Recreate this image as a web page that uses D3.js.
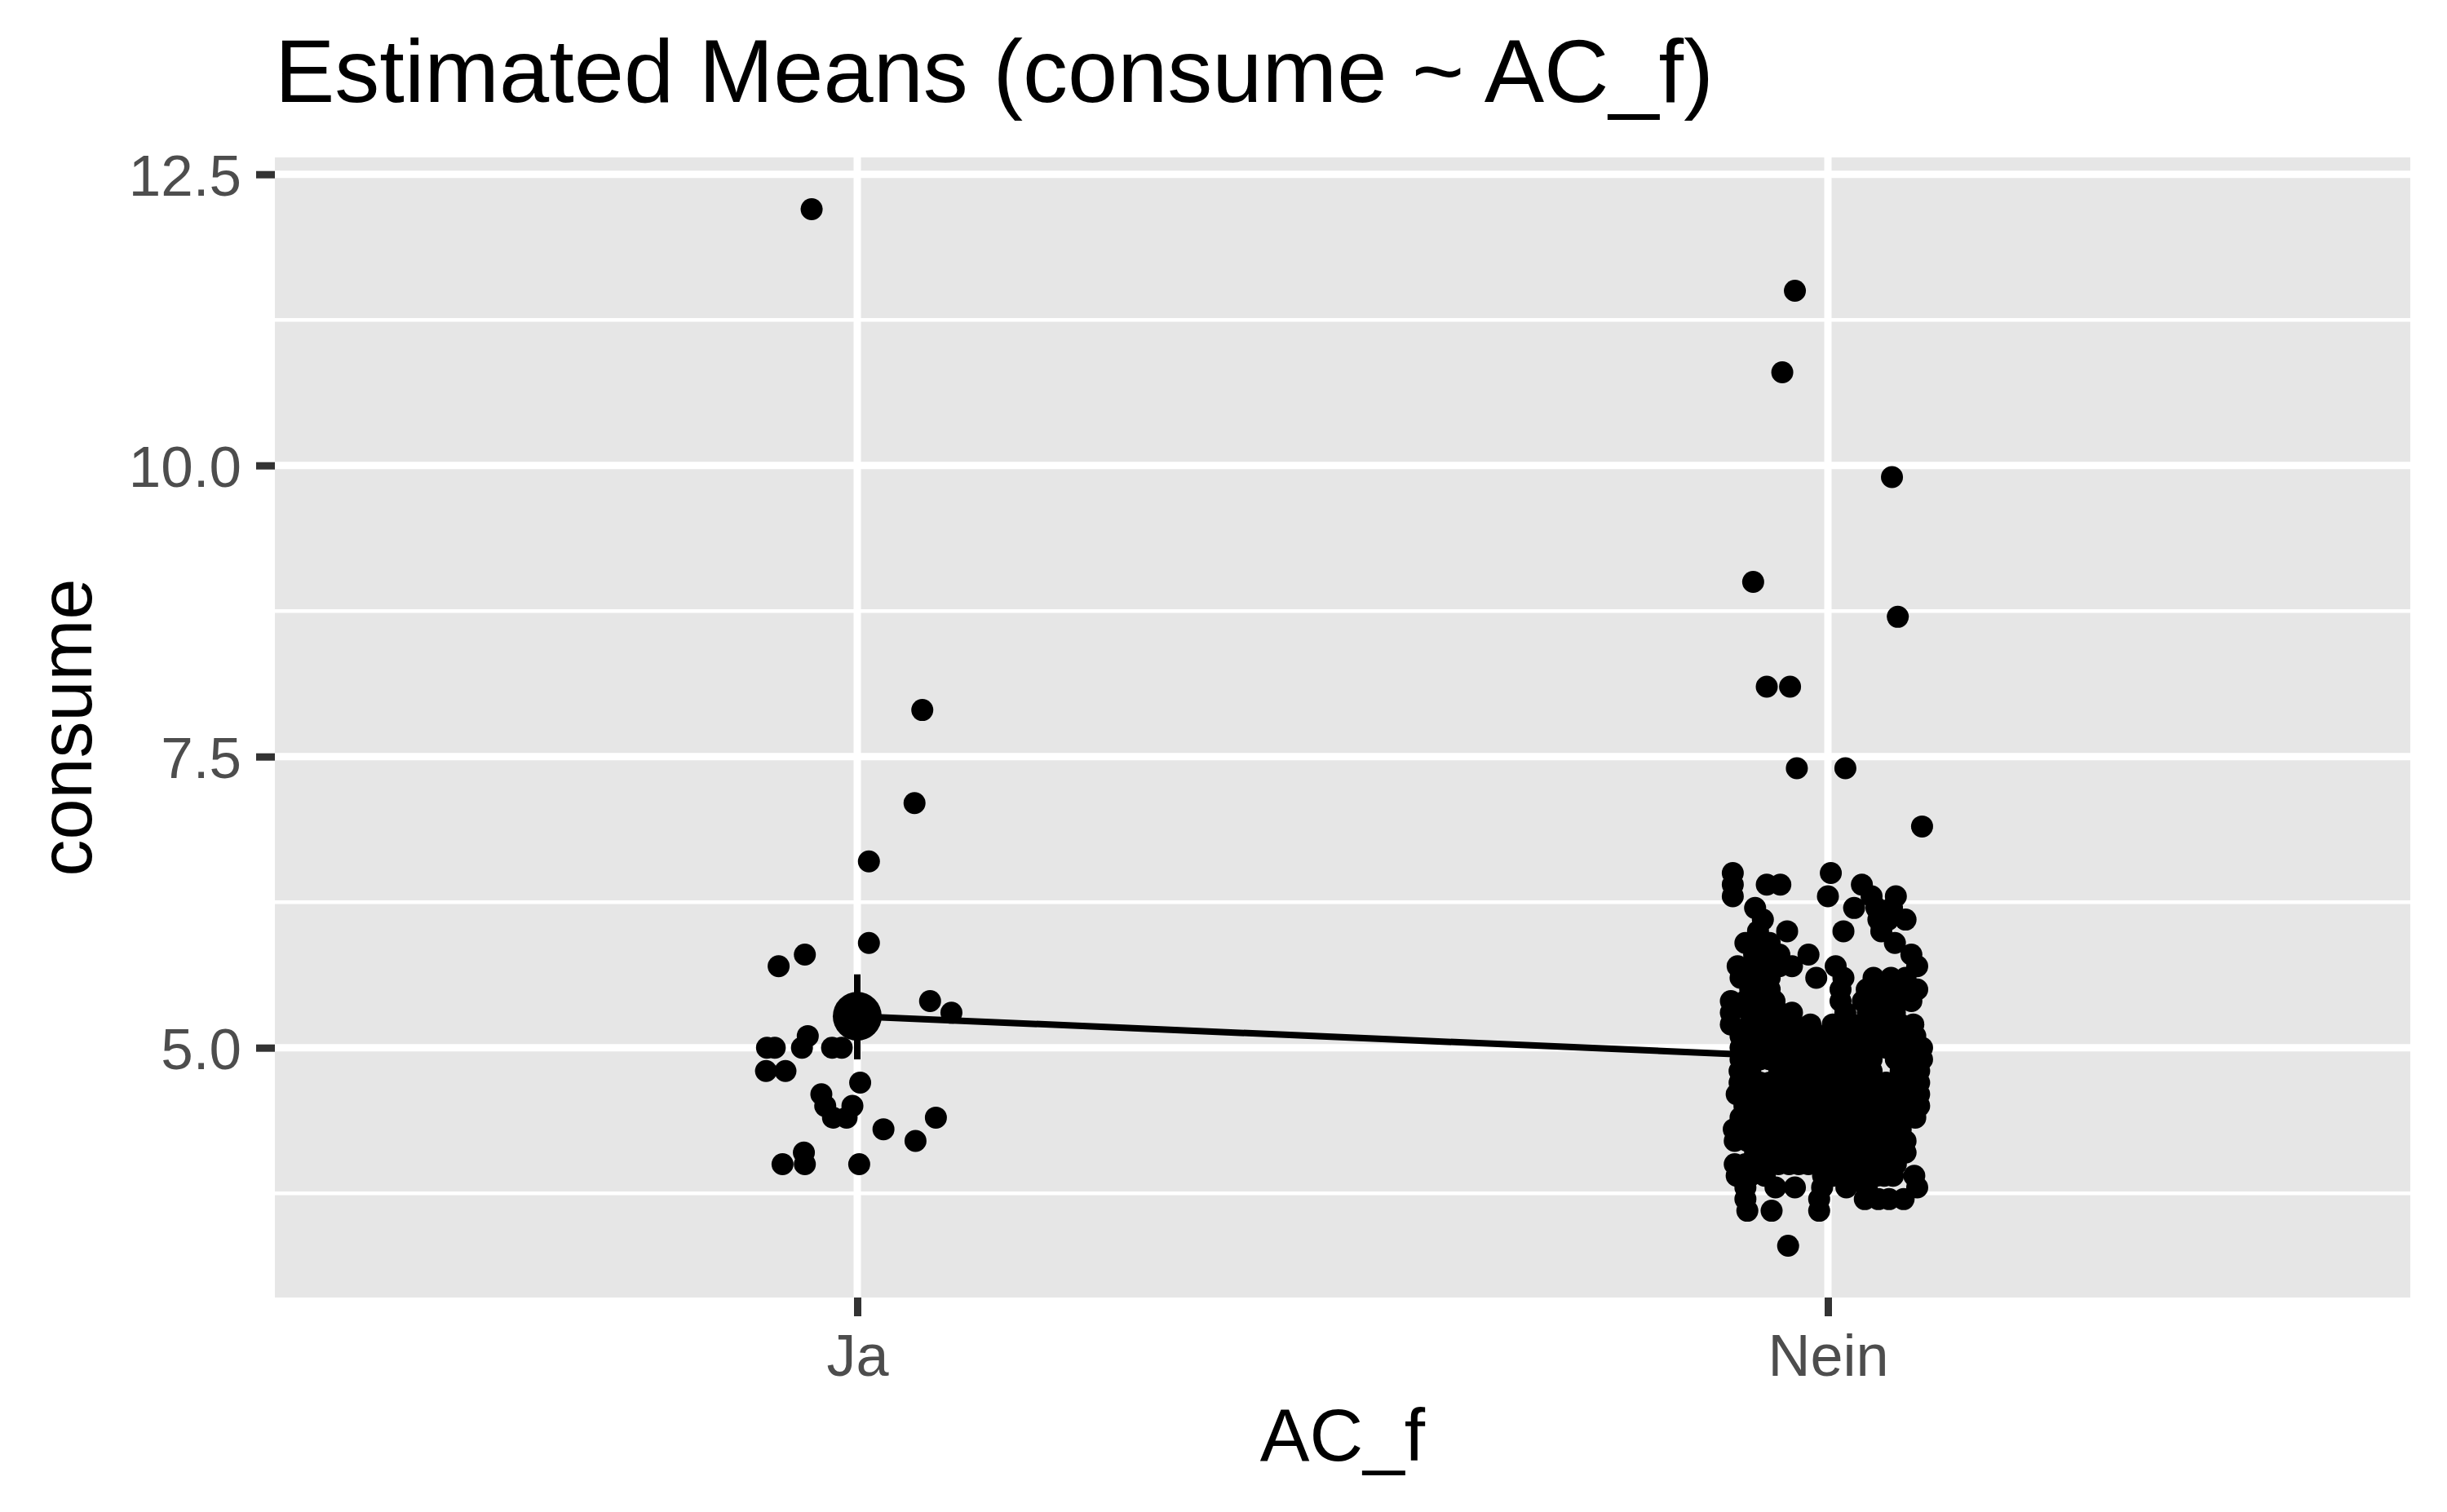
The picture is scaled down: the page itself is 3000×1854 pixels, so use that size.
<!DOCTYPE html>
<html>
<head>
<meta charset="utf-8">
<script src="https://cdn.jsdelivr.net/npm/d3@7"></script>
<style>
  html, body { margin: 0; padding: 0; background: #ffffff; }
  svg { display: block; }
  text { font-family: "Liberation Sans", Arial, Helvetica, sans-serif; }
</style>
</head>
<body>
<svg id="chart" width="3000" height="1854"></svg>
<script>
// ---------------- data ----------------
const categories = ["Ja", "Nein"];
const titleText = "Estimated Means (consume ~ AC_f)";
const xTitle = "AC_f";
const yTitle = "consume";
const yTicks = [5.0, 7.5, 10.0, 12.5];
const yMinorTicks = [3.75, 6.25, 8.75, 11.25];

// estimated means and confidence limits per category
const meanConsume = [5.27, 4.91];
const ciLow = [4.90, 4.80];
const ciHigh = [5.63, 5.02];

// raw observations: [consume, horizontal jitter in category units]
const jaPoints = [
  [12.2,-0.047],[7.9,0.067],[7.1,0.059],[6.6,0.012],[5.9,0.012],[5.8,-0.054],
  [5.7,-0.081],[5.4,0.075],[5.3,0.097],[5.1,-0.051],[5.0,-0.057],[5.0,-0.093],
  [5.0,-0.085],[5.0,-0.026],[5.0,-0.016],[4.8,-0.094],[4.8,-0.074],[4.7,0.003],
  [4.6,-0.037],[4.5,-0.033],[4.5,-0.005],[4.4,-0.025],[4.4,-0.011],[4.3,0.027],
  [4.4,0.081],[4.2,0.060],[4.1,-0.055],[4.0,-0.077],[4.0,-0.054],[4.0,0.002]
];

const neinPoints = [
  [11.5,-0.034],[10.8,-0.047],[9.9,0.066],[9.0,-0.077],[8.7,0.072],[8.1,-0.063],
  [8.1,-0.039],[7.4,-0.032],[7.4,0.018],[6.9,0.097],
  [6.5,-0.098],[6.5,0.003],
  [6.4,-0.098],[6.4,-0.063],[6.4,-0.049],[6.4,0.035],
  [6.3,-0.098],[6.3,0.000],[6.3,0.070],[6.3,0.045],
  [6.2,-0.075],[6.2,0.027],[6.2,0.050],[6.2,0.066],
  [6.1,-0.067],[6.1,0.052],[6.1,0.080],[6.1,0.062],
  [6.0,-0.072],[6.0,-0.042],[6.0,0.016],[6.0,0.055],
  [5.9,-0.085],[5.9,-0.070],[5.9,-0.060],[5.9,0.069],
  [5.8,-0.076],[5.8,-0.065],[5.8,-0.050],[5.8,-0.020],[5.8,0.086],
  [5.7,-0.093],[5.7,-0.080],[5.7,-0.065],[5.7,-0.050],[5.7,-0.037],[5.7,0.008],[5.7,0.092],
  [5.6,-0.090],[5.6,-0.075],[5.6,-0.060],[5.6,-0.012],[5.6,0.016],[5.6,0.047],[5.6,0.065],[5.6,0.080],
  [5.5,-0.080],[5.5,-0.070],[5.5,-0.060],[5.5,0.013],[5.5,0.040],[5.5,0.055],[5.5,0.075],[5.5,0.092],
  [5.4,-0.100],[5.4,-0.085],[5.4,-0.072],[5.4,-0.055],[5.4,0.013],[5.4,0.036],[5.4,0.050],[5.4,0.070],[5.4,0.086],
  [5.3,-0.100],[5.3,-0.080],[5.3,-0.061],[5.3,-0.050],[5.3,-0.037],[5.3,0.018],[5.3,0.041],[5.3,0.055],[5.3,0.069],
  [5.2,-0.100],[5.2,-0.080],[5.2,-0.065],[5.2,-0.050],[5.2,-0.035],[5.2,-0.018],[5.2,0.005],[5.2,0.025],[5.2,0.040],[5.2,0.060],[5.2,0.075],[5.2,0.088],
  [5.1,-0.090],[5.1,-0.072],[5.1,-0.058],[5.1,-0.045],[5.1,-0.025],[5.1,-0.007],[5.1,0.015],[5.1,0.030],[5.1,0.040],[5.1,0.057],[5.1,0.075],[5.1,0.090],
  [5.0,-0.090],[5.0,-0.080],[5.0,-0.070],[5.0,-0.060],[5.0,-0.050],[5.0,-0.040],[5.0,-0.030],[5.0,-0.020],[5.0,-0.010],[5.0,0.000],
  [5.0,0.010],[5.0,0.020],[5.0,0.030],[5.0,0.040],[5.0,0.050],[5.0,0.060],[5.0,0.070],[5.0,0.080],[5.0,0.088],[5.0,0.097],
  [4.9,-0.090],[4.9,-0.070],[4.9,-0.060],[4.9,-0.045],[4.9,-0.035],[4.9,-0.025],[4.9,-0.015],[4.9,-0.005],[4.9,0.005],[4.9,0.015],
  [4.9,0.025],[4.9,0.035],[4.9,0.045],[4.9,0.070],[4.9,0.080],[4.9,0.088],[4.9,0.097],
  [4.8,-0.091],[4.8,-0.080],[4.8,-0.050],[4.8,-0.040],[4.8,-0.030],[4.8,-0.020],[4.8,-0.010],[4.8,0.000],[4.8,0.010],[4.8,0.020],
  [4.8,0.030],[4.8,0.045],[4.8,0.075],[4.8,0.085],[4.8,0.094],
  [4.7,-0.091],[4.7,-0.080],[4.7,-0.070],[4.7,-0.060],[4.7,-0.050],[4.7,-0.040],[4.7,-0.030],[4.7,-0.020],[4.7,-0.010],[4.7,0.000],
  [4.7,0.010],[4.7,0.020],[4.7,0.030],[4.7,0.040],[4.7,0.050],[4.7,0.060],[4.7,0.070],[4.7,0.080],[4.7,0.094],
  [4.6,-0.094],[4.6,-0.080],[4.6,-0.070],[4.6,-0.060],[4.6,-0.050],[4.6,-0.040],[4.6,-0.030],[4.6,-0.020],[4.6,-0.010],[4.6,0.000],
  [4.6,0.010],[4.6,0.020],[4.6,0.030],[4.6,0.040],[4.6,0.050],[4.6,0.060],[4.6,0.070],[4.6,0.080],[4.6,0.094],
  [4.5,-0.086],[4.5,-0.075],[4.5,-0.065],[4.5,-0.055],[4.5,-0.045],[4.5,-0.035],[4.5,-0.025],[4.5,-0.012],[4.5,0.000],[4.5,0.012],
  [4.5,0.025],[4.5,0.035],[4.5,0.045],[4.5,0.055],[4.5,0.065],[4.5,0.075],[4.5,0.085],[4.5,0.094],
  [4.4,-0.090],[4.4,-0.080],[4.4,-0.070],[4.4,-0.060],[4.4,-0.050],[4.4,-0.040],[4.4,-0.030],[4.4,-0.020],[4.4,-0.010],[4.4,0.000],
  [4.4,0.010],[4.4,0.020],[4.4,0.030],[4.4,0.040],[4.4,0.050],[4.4,0.060],[4.4,0.070],[4.4,0.080],[4.4,0.090],
  [4.3,-0.097],[4.3,-0.085],[4.3,-0.075],[4.3,-0.065],[4.3,-0.055],[4.3,-0.042],[4.3,-0.030],[4.3,-0.018],[4.3,-0.005],[4.3,0.008],
  [4.3,0.020],[4.3,0.032],[4.3,0.045],[4.3,0.060],[4.3,0.068],[4.3,0.075],
  [4.2,-0.096],[4.2,-0.083],[4.2,-0.070],[4.2,-0.060],[4.2,-0.050],[4.2,-0.037],[4.2,-0.025],[4.2,-0.012],[4.2,0.000],[4.2,0.010],
  [4.2,0.020],[4.2,0.030],[4.2,0.040],[4.2,0.050],[4.2,0.060],[4.2,0.070],[4.2,0.080],
  [4.1,-0.075],[4.1,-0.060],[4.1,-0.046],[4.1,-0.033],[4.1,-0.020],[4.1,-0.010],[4.1,0.000],[4.1,0.012],[4.1,0.025],[4.1,0.035],
  [4.1,0.045],[4.1,0.055],[4.1,0.065],[4.1,0.080],
  [4.0,-0.096],[4.0,-0.085],[4.0,-0.075],[4.0,-0.063],[4.0,-0.051],[4.0,-0.040],[4.0,-0.030],[4.0,-0.020],[4.0,-0.010],[4.0,0.005],
  [4.0,0.015],[4.0,0.025],[4.0,0.035],[4.0,0.045],[4.0,0.055],[4.0,0.070],
  [3.9,-0.094],[3.9,-0.080],[3.9,-0.065],[3.9,-0.005],[3.9,0.005],[3.9,0.015],[3.9,0.030],[3.9,0.040],[3.9,0.050],[3.9,0.058],
  [3.9,0.067],[3.9,0.089],
  [3.8,-0.085],[3.8,-0.054],[3.8,-0.034],[3.8,-0.006],[3.8,0.019],[3.8,0.040],[3.8,0.092],
  [3.7,-0.085],[3.7,-0.009],[3.7,0.038],[3.7,0.052],[3.7,0.063],[3.7,0.078],
  [3.6,-0.083],[3.6,-0.058],[3.6,-0.009],
  [3.3,-0.041]
];

// ---------------- layout ----------------
const panel = { left: 337, right: 2955, top: 193, bottom: 1591 };
const FONT = '"Liberation Sans", Arial, Helvetica, sans-serif';

const svg = d3.select("#chart");

const x = d3.scalePoint()
  .domain(categories)
  .range([panel.left, panel.right])
  .padding(0.6);

const allY = jaPoints.map(d => d[0]).concat(neinPoints.map(d => d[0]));
const [yMinD, yMaxD] = d3.extent(allY);
const ySpan = yMaxD - yMinD;
const y = d3.scaleLinear()
  .domain([yMinD - 0.05 * ySpan, yMaxD + 0.05 * ySpan])
  .range([panel.bottom, panel.top]);

// panel background
svg.append("rect")
  .attr("x", panel.left).attr("y", panel.top)
  .attr("width", panel.right - panel.left)
  .attr("height", panel.bottom - panel.top)
  .attr("fill", "#E6E6E6");

const grid = svg.append("g");
grid.selectAll("line.minor").data(yMinorTicks).enter().append("line")
  .attr("x1", panel.left).attr("x2", panel.right)
  .attr("y1", d => y(d)).attr("y2", d => y(d))
  .attr("stroke", "#ffffff").attr("stroke-width", 4.5);
grid.selectAll("line.majy").data(yTicks).enter().append("line")
  .attr("x1", panel.left).attr("x2", panel.right)
  .attr("y1", d => y(d)).attr("y2", d => y(d))
  .attr("stroke", "#ffffff").attr("stroke-width", 9);
grid.selectAll("line.majx").data(categories).enter().append("line")
  .attr("y1", panel.top).attr("y2", panel.bottom)
  .attr("x1", d => x(d)).attr("x2", d => x(d))
  .attr("stroke", "#ffffff").attr("stroke-width", 9);

// axes
const yAxis = d3.axisLeft(y).tickValues(yTicks).tickFormat(d3.format(".1f"))
  .tickSize(23).tickPadding(18);
const gy = svg.append("g").attr("transform", `translate(${panel.left},0)`).call(yAxis);
gy.select(".domain").remove();
gy.selectAll(".tick line").attr("stroke", "#333333").attr("stroke-width", 9);
gy.selectAll(".tick text")
  .attr("fill", "#4D4D4D")
  .style("font-family", FONT)
  .style("font-size", "71px")
  .attr("dy", "0.36em");

const xAxis = d3.axisBottom(x).tickSize(23).tickPadding(18);
const gx = svg.append("g").attr("transform", `translate(0,${panel.bottom})`).call(xAxis);
gx.select(".domain").remove();
gx.selectAll(".tick line").attr("stroke", "#333333").attr("stroke-width", 9);
gx.selectAll(".tick text")
  .attr("fill", "#4D4D4D")
  .style("font-family", FONT)
  .style("font-size", "72px")
  .attr("y", 96)
  .attr("dy", "0");

// raw points
const step = x.step();
const pts = svg.append("g");
const drawPoints = (data, cat) => {
  pts.selectAll(null).data(data).enter().append("circle")
    .attr("cx", d => x(cat) + d[1] * step)
    .attr("cy", d => y(d[0]))
    .attr("r", 13.5)
    .attr("fill", "#000000");
};
drawPoints(jaPoints, "Ja");
drawPoints(neinPoints, "Nein");

// means: line, error bars, points
const means = categories.map((c, i) => ({ c, m: meanConsume[i], lo: ciLow[i], hi: ciHigh[i] }));
svg.append("path")
  .datum(means)
  .attr("d", d3.line().x(d => x(d.c)).y(d => y(d.m)))
  .attr("fill", "none").attr("stroke", "#000000").attr("stroke-width", 8);
svg.selectAll("line.err").data(means).enter().append("line")
  .attr("x1", d => x(d.c)).attr("x2", d => x(d.c))
  .attr("y1", d => y(d.lo)).attr("y2", d => y(d.hi))
  .attr("stroke", "#000000").attr("stroke-width", 8);
svg.selectAll("circle.mean").data(means).enter().append("circle")
  .attr("cx", d => x(d.c)).attr("cy", d => y(d.m))
  .attr("r", 30).attr("fill", "#000000");

// titles
svg.append("text")
  .attr("x", panel.left).attr("y", 125)
  .style("font-family", FONT).style("font-size", "110px")
  .attr("fill", "#000000")
  .text(titleText);

svg.append("text")
  .attr("x", (panel.left + panel.right) / 2).attr("y", 1791)
  .attr("text-anchor", "middle")
  .style("font-family", FONT).style("font-size", "91px")
  .attr("fill", "#000000")
  .text(xTitle);

svg.append("text")
  .attr("transform", `translate(112,${(panel.top + panel.bottom) / 2}) rotate(-90)`)
  .attr("text-anchor", "middle")
  .style("font-family", FONT).style("font-size", "90px")
  .attr("fill", "#000000")
  .text(yTitle);
</script>
</body>
</html>
